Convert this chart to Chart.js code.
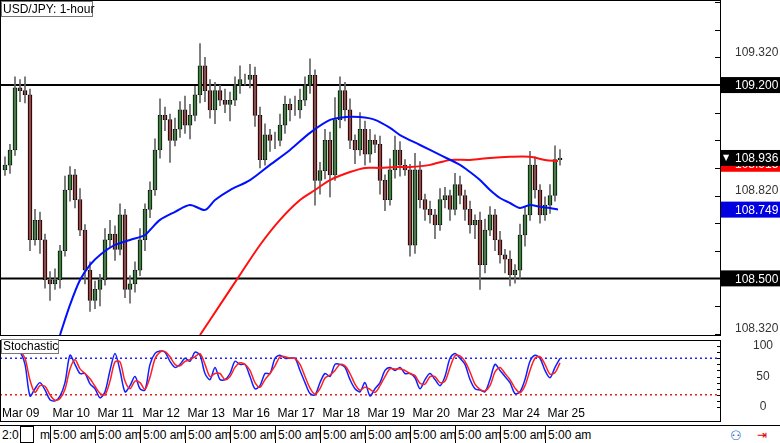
<!DOCTYPE html>
<html>
<head>
<meta charset="utf-8">
<script src="https://cdn.jsdelivr.net/npm/chart.js@4.4.1/dist/chart.umd.min.js"></script>
<style>
  body { margin: 0; width: 780px; height: 443px; overflow: hidden; background: #fff; font-family: "Liberation Sans", Arial, sans-serif; }
  #main { position: absolute; left: 0; top: 0; width: 780px; height: 337px; }
  #stoch { position: absolute; left: 0; top: 337px; width: 780px; height: 88px; }
  #strip { position: absolute; left: 0; top: 425px; width: 780px; height: 18px; border-top: 1px solid #000; font-size: 12px; }
  #strip span { position: absolute; top: 2px; }
  #strip i { position: absolute; top: 0; width: 1px; height: 18px; background: #000; }
</style>
</head>
<body>
<div id="main"><canvas id="priceChart"></canvas></div>
<div id="stoch"><canvas id="stochChart"></canvas></div>
<div id="strip"></div>
<script>
// candle closes, one every ~2.4 hours (open = previous close)
const closes = [108.893,108.91,108.965,109.19,109.18,109.165,108.64,108.71,108.64,108.495,108.48,108.495,108.60,108.82,108.875,108.785,108.675,108.53,108.42,108.46,108.495,108.64,108.66,108.605,108.73,108.46,108.48,108.53,108.64,108.75,108.82,108.965,109.09,109.075,109.0,109.04,109.11,109.055,109.09,109.165,109.27,109.18,109.11,109.18,109.145,109.13,109.145,109.2,109.22,109.22,109.235,109.09,108.93,109.02,109.0,109.0,109.055,109.13,109.11,109.11,109.145,109.2,109.235,108.855,108.89,109.0,108.875,109.075,109.18,109.11,109.0,108.965,109.04,108.95,109.0,108.985,108.855,108.785,108.893,108.965,108.91,108.893,108.62,108.893,108.785,108.75,108.73,108.694,108.785,108.80,108.75,108.84,108.80,108.75,108.694,108.71,108.55,108.675,108.73,108.64,108.585,108.57,108.513,108.53,108.657,108.73,108.91,108.82,108.73,108.765,108.80,108.93,108.936];
const upWicks = [0.02,0.03,0.02,0.04,0.03,0.05,0.02,0.04,0.03,0.02,0.03,0.04,0.02,0.05,0.03,0.02,0.04,0.02,0.03,0.03,0.02,0.04,0.05,0.03,0.04,0.02,0.03,0.03,0.04,0.02,0.03,0.04,0.06,0.03,0.02,0.04,0.03,0.05,0.04,0.03,0.08,0.03,0.04,0.03,0.02,0.04,0.03,0.03,0.05,0.02,0.04,0.03,0.03,0.04,0.02,0.03,0.04,0.03,0.02,0.05,0.04,0.03,0.06,0.02,0.03,0.04,0.03,0.08,0.05,0.03,0.04,0.02,0.06,0.03,0.04,0.02,0.03,0.02,0.04,0.05,0.03,0.02,0.02,0.06,0.03,0.02,0.03,0.02,0.04,0.03,0.02,0.04,0.03,0.02,0.03,0.02,0.03,0.04,0.03,0.02,0.03,0.02,0.03,0.02,0.04,0.03,0.05,0.03,0.02,0.03,0.04,0.05,0.03];
const downWicks = [0.03,0.02,0.03,0.02,0.04,0.03,0.04,0.02,0.05,0.03,0.06,0.02,0.03,0.02,0.04,0.03,0.02,0.05,0.04,0.03,0.06,0.02,0.03,0.04,0.02,0.03,0.05,0.03,0.02,0.04,0.03,0.02,0.03,0.04,0.08,0.02,0.03,0.03,0.05,0.02,0.03,0.04,0.03,0.05,0.02,0.03,0.06,0.02,0.03,0.02,0.03,0.04,0.03,0.02,0.04,0.03,0.02,0.03,0.04,0.02,0.03,0.02,0.03,0.09,0.05,0.03,0.08,0.02,0.03,0.04,0.03,0.05,0.02,0.04,0.03,0.03,0.05,0.04,0.02,0.03,0.04,0.02,0.04,0.03,0.03,0.04,0.03,0.05,0.02,0.03,0.04,0.02,0.03,0.04,0.03,0.05,0.09,0.03,0.02,0.04,0.03,0.05,0.04,0.03,0.03,0.04,0.02,0.03,0.03,0.02,0.03,0.02,0.02];
const blueMaX = [12,14,16,18,20,23,26,29,30,32,35,38,41,43,46,50,54,58,62,66,69,72,75,78,80,84,88,92,94,96,98,100,102,104,106,108,110,111.6];
const blueMa = [108.295,108.404,108.494,108.549,108.585,108.621,108.639,108.657,108.675,108.712,108.741,108.766,108.748,108.784,108.820,108.856,108.911,108.965,109.027,109.074,109.084,109.084,109.074,109.045,109.019,108.983,108.947,108.911,108.885,108.856,108.820,108.791,108.773,108.755,108.766,108.759,108.755,108.749];
const redMaX = [40,44,48,52,56,60,63,66,70,73,76,79,82,86,90,94,98,102,106,109,111.6];
const redMa = [108.295,108.404,108.513,108.621,108.712,108.784,108.820,108.856,108.885,108.900,108.900,108.903,108.903,108.911,108.929,108.929,108.936,108.940,108.940,108.929,108.925];
const levels = [109.2, 108.5];
const stochK = [92,92,92,92,90,70,18,30,40,28,12,10,18,40,85,70,55,55,38,30,15,25,60,88,60,25,35,50,30,28,70,88,92,90,75,65,70,80,75,90,85,55,45,65,45,45,55,75,70,70,50,30,35,55,55,80,85,80,80,80,60,40,22,20,40,55,50,70,70,65,45,30,25,40,18,30,40,60,65,60,65,55,55,48,30,45,55,45,35,50,80,88,80,70,45,30,28,25,45,70,60,50,40,22,25,45,75,85,80,60,48,65,80];
const dayLabels = ['Mar 09','Mar 10','Mar 11','Mar 12','Mar 13','Mar 16','Mar 17','Mar 18','Mar 19','Mar 20','Mar 23','Mar 24','Mar 25'];
const priceLabels = [109.32, 108.82, 108.32];

const opens = closes.map((c, i) => i ? closes[i - 1] : c);
const bodies = closes.map((c, i) => ({ x: i, y: [opens[i], c] }));
const wicks = closes.map((c, i) => ({ x: i, y: [Math.min(opens[i], c) - downWicks[i], Math.max(opens[i], c) + upWicks[i]] }));
const bodyColors = closes.map((c, i) => c >= opens[i] ? '#00b400' : '#e00000');
const stochD = stochK.map((v, i) => (stochK[Math.max(0, i - 1)] + v) / 2);

function fitRight(s) { s.width = 60; }

function box(ctx, y, text, bg, fg) {
  ctx.fillStyle = bg;
  ctx.fillRect(721, y - 8, 59, 16);
  ctx.fillStyle = fg;
  ctx.fillText(text, 735, y + 1);
}

const priceDecor = {
  id: 'priceDecor',
  afterDraw(chart) {
    const { ctx, chartArea: a, scales: { y } } = chart;
    ctx.save();
    ctx.strokeStyle = '#000';
    ctx.lineWidth = 1;
    ctx.strokeRect(a.left + 0.5, a.top + 0.5, a.right - a.left, a.bottom - a.top);
    for (let v = 108.3; v < 109.51; v += 0.1) {
      const py = Math.round(y.getPixelForValue(v)) + 0.5;
      ctx.beginPath(); ctx.moveTo(a.right - 5, py); ctx.lineTo(a.right, py); ctx.stroke();
    }
    ctx.font = '12px "Liberation Sans", Arial, sans-serif';
    ctx.textBaseline = 'middle';
    ctx.fillStyle = '#333';
    priceLabels.forEach(v => ctx.fillText(v.toFixed(3), 735, y.getPixelForValue(v) + 1));
    box(ctx, y.getPixelForValue(109.2), '109.200', '#000', '#fff');
    box(ctx, y.getPixelForValue(108.5), '108.500', '#000', '#fff');
    box(ctx, y.getPixelForValue(108.915), '108.915', '#ff0000', '#fff');
    box(ctx, y.getPixelForValue(108.936), '108.936', '#000', '#fff');
    ctx.font = '8px "DejaVu Sans", sans-serif';
    ctx.fillText('\u25BC', 723, y.getPixelForValue(108.936));
    ctx.font = '12px "Liberation Sans", Arial, sans-serif';
    box(ctx, y.getPixelForValue(108.749), '108.749', '#0000e0', '#fff');
    // title box
    ctx.fillStyle = '#fff';
    ctx.fillRect(1, 1, 92, 16);
    ctx.strokeStyle = '#777';
    ctx.strokeRect(1.5, 1.5, 91, 15);
    ctx.fillStyle = '#000';
    ctx.fillText('USD/JPY: 1-hour', 3, 10);
    ctx.restore();
  }
};

new Chart(document.getElementById('priceChart'), {
  type: 'bar',
  data: {
    datasets: [
      { type: 'line', data: blueMaX.map((x, i) => ({ x, y: blueMa[i] })), borderColor: '#0010ff', borderWidth: 2, pointRadius: 0, tension: 0.3 },
      { type: 'line', data: redMaX.map((x, i) => ({ x, y: redMa[i] })), borderColor: '#ff1010', borderWidth: 2, pointRadius: 0, tension: 0.3 },
      { data: wicks, backgroundColor: '#666', barThickness: 1, grouped: false },
      { data: bodies, backgroundColor: bodyColors, borderColor: '#000', borderWidth: 1, borderSkipped: false, barThickness: 4, grouped: false },
      ...levels.map(v => ({ type: 'line', data: [{ x: 0, y: v }, { x: 144, y: v }], borderColor: '#000', borderWidth: 2, pointRadius: 0 }))
    ]
  },
  options: {
    responsive: true, maintainAspectRatio: false, animation: false,
    layout: { padding: { top: 0, bottom: 2 } },
    plugins: { legend: { display: false }, tooltip: { enabled: false } },
    scales: {
      x: { type: 'linear', min: 0, max: 144, offset: false, display: false },
      y: { position: 'right', min: 108.295, max: 109.508, afterFit: fitRight, ticks: { display: false }, grid: { display: false }, border: { display: false } }
    }
  },
  plugins: [priceDecor]
});

const stochDecor = {
  id: 'stochDecor',
  afterDraw(chart) {
    const { ctx, chartArea: a, scales: { x, y } } = chart;
    ctx.save();
    ctx.strokeStyle = '#000';
    ctx.strokeRect(a.left + 0.5, a.top + 0.5, a.right - a.left, a.bottom - a.top);
    for (let v = 0; v <= 100; v += 10) {
      const py = Math.round(y.getPixelForValue(v)) + 0.5;
      ctx.beginPath(); ctx.moveTo(a.right - 3, py); ctx.lineTo(a.right, py); ctx.stroke();
    }
    ctx.font = '12px "Liberation Sans", Arial, sans-serif';
    ctx.fillStyle = '#333';
    ctx.textAlign = 'center';
    ctx.textBaseline = 'middle';
    [100, 50, 0].forEach(v => ctx.fillText(String(v), 763, y.getPixelForValue(v)));
    ctx.textAlign = 'left';
    ctx.fillStyle = '#000';
    dayLabels.forEach((t, i) => ctx.fillText(t, x.getPixelForValue(i ? 10.5 + 9 * (i - 1) : 0.4), 77));
    ctx.fillStyle = '#fff';
    ctx.fillRect(1, 2, 58, 15);
    ctx.strokeStyle = '#777';
    ctx.strokeRect(1.5, 2.5, 57, 14);
    ctx.fillStyle = '#000';
    ctx.fillText('Stochastic', 3, 10);
    ctx.restore();
  }
};

new Chart(document.getElementById('stochChart'), {
  type: 'line',
  data: {
    datasets: [
      { data: stochD.map((v, i) => ({ x: i, y: v })), borderColor: '#ff2020', borderWidth: 1.5, pointRadius: 0, tension: 0.3 },
      { data: stochK.map((v, i) => ({ x: i, y: v })), borderColor: '#1020ff', borderWidth: 1.5, pointRadius: 0, tension: 0.3 },
      { data: [{ x: 0, y: 80 }, { x: 144, y: 80 }], borderColor: '#2020ff', borderWidth: 1.5, borderDash: [2, 3], pointRadius: 0 },
      { data: [{ x: 0, y: 20 }, { x: 144, y: 20 }], borderColor: '#e02020', borderWidth: 1.5, borderDash: [2, 3], pointRadius: 0 }
    ]
  },
  options: {
    responsive: true, maintainAspectRatio: false, animation: false,
    layout: { padding: { top: 3, bottom: 4 } },
    plugins: { legend: { display: false }, tooltip: { enabled: false } },
    scales: {
      x: { type: 'linear', min: 0, max: 144, offset: false, display: false },
      y: { position: 'right', min: -23, max: 110, afterFit: fitRight, ticks: { display: false }, grid: { display: false }, border: { display: false } }
    }
  },
  plugins: [stochDecor]
});

// bottom time strip
const strip = document.getElementById('strip');
let html = '<span style="left:2px">2:0</span><span style="left:20px;width:12px;height:15px;border:1px solid #000;top:0"></span><span style="left:40px">m</span>';
for (let i = 0; i < 12; i++) {
  const left = 50 + 45 * i;
  html += '<i style="left:' + left + 'px"></i><span style="left:' + (left + 3) + 'px">5:00 am</span>';
}
html += '<span style="left:730px;color:#1060e0;font-size:13px">&#x2687;</span><span style="left:757px;color:#e00000">&#x21E5;</span>';
strip.innerHTML = html;
</script>
</body>
</html>
